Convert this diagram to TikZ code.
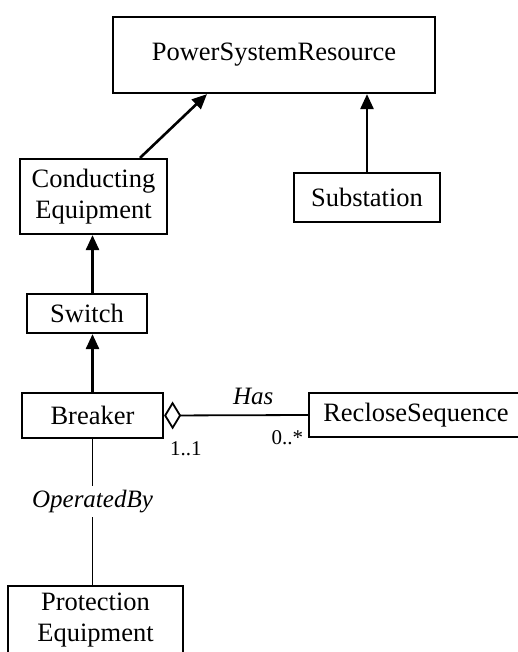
\documentclass[tikz,border=0pt]{standalone}
\usepackage{fontspec}
\setmainfont{Liberation Serif}
\usetikzlibrary{arrows.meta,positioning}
\newcommand\boxsize{\fontsize{26.5}{31}\selectfont}
\newcommand\rolesize{\fontsize{25}{30}\selectfont\itshape}
\newcommand\multsize{\fontsize{21}{25}\selectfont}
\begin{document}
\begin{tikzpicture}[x=1pt,y=-1pt,
    cls/.style={draw, line width=2.2pt, inner sep=0pt, align=center, font=\boxsize},
    gen/.style={line width=2.6pt, -{Triangle[length=15pt,width=13pt]}},
    assoc/.style={line width=1.8pt},
    role/.style={inner sep=0pt, font=\rolesize},
    mult/.style={inner sep=0pt, font=\multsize}]
      \useasboundingbox (0,0) rectangle (518,652);
      \draw
        (274,55) node[cls, minimum width=322, minimum height=76] (psr){PowerSystemResource}
        (93.5,196.5) node[cls, minimum width=147, minimum height=75] (ce){Conducting\\Equipment}
        (367,197.5) node[cls, minimum width=146, minimum height=49] (sub){Substation}
        (87,313.5) node[cls, minimum width=120, minimum height=39] (sw){Switch}
        (92.5,415.5) node[cls, minimum width=141, minimum height=45] (brk){Breaker}
        (416,415) node[cls, minimum width=214, minimum height=44] (rec){RecloseSequence}
        (95.5,585) node[cls, anchor=north, minimum width=175, inner ysep=7pt, text depth=30pt] (prot){Protection\\Equipment};
      \begin{scope}[gen]
        \draw ([xshift=46.5pt]ce.north) to ([xshift=-67pt]psr.south);
        \draw (sub.north) to (sub.north |- psr.south);
        \draw (brk.north |- sw.north) to (brk.north |- ce.south);
        \draw (brk.north) to (brk.north |- sw.south);
      \end{scope}
      \begin{scope}[assoc]
        \draw[{Diamond[open,length=17pt,width=28pt,line width=1.8pt]}-] (brk.east) to
          node[role, pos=0.62, anchor=south, yshift=10pt] (has){Has}
          node[mult, pos=0, anchor=north west, xshift=5pt, yshift=-25pt] (m1){1..1}
          node[mult, pos=1, anchor=north east, xshift=-4pt, yshift=-15pt] (m2){0..*}
          (rec.west);
        \draw (brk.south) to
          node[role, pos=0.43, fill=white, inner sep=4pt] (op){OperatedBy}
          (prot.north -| brk.south);
      \end{scope}
    \end{tikzpicture}
\end{document}
